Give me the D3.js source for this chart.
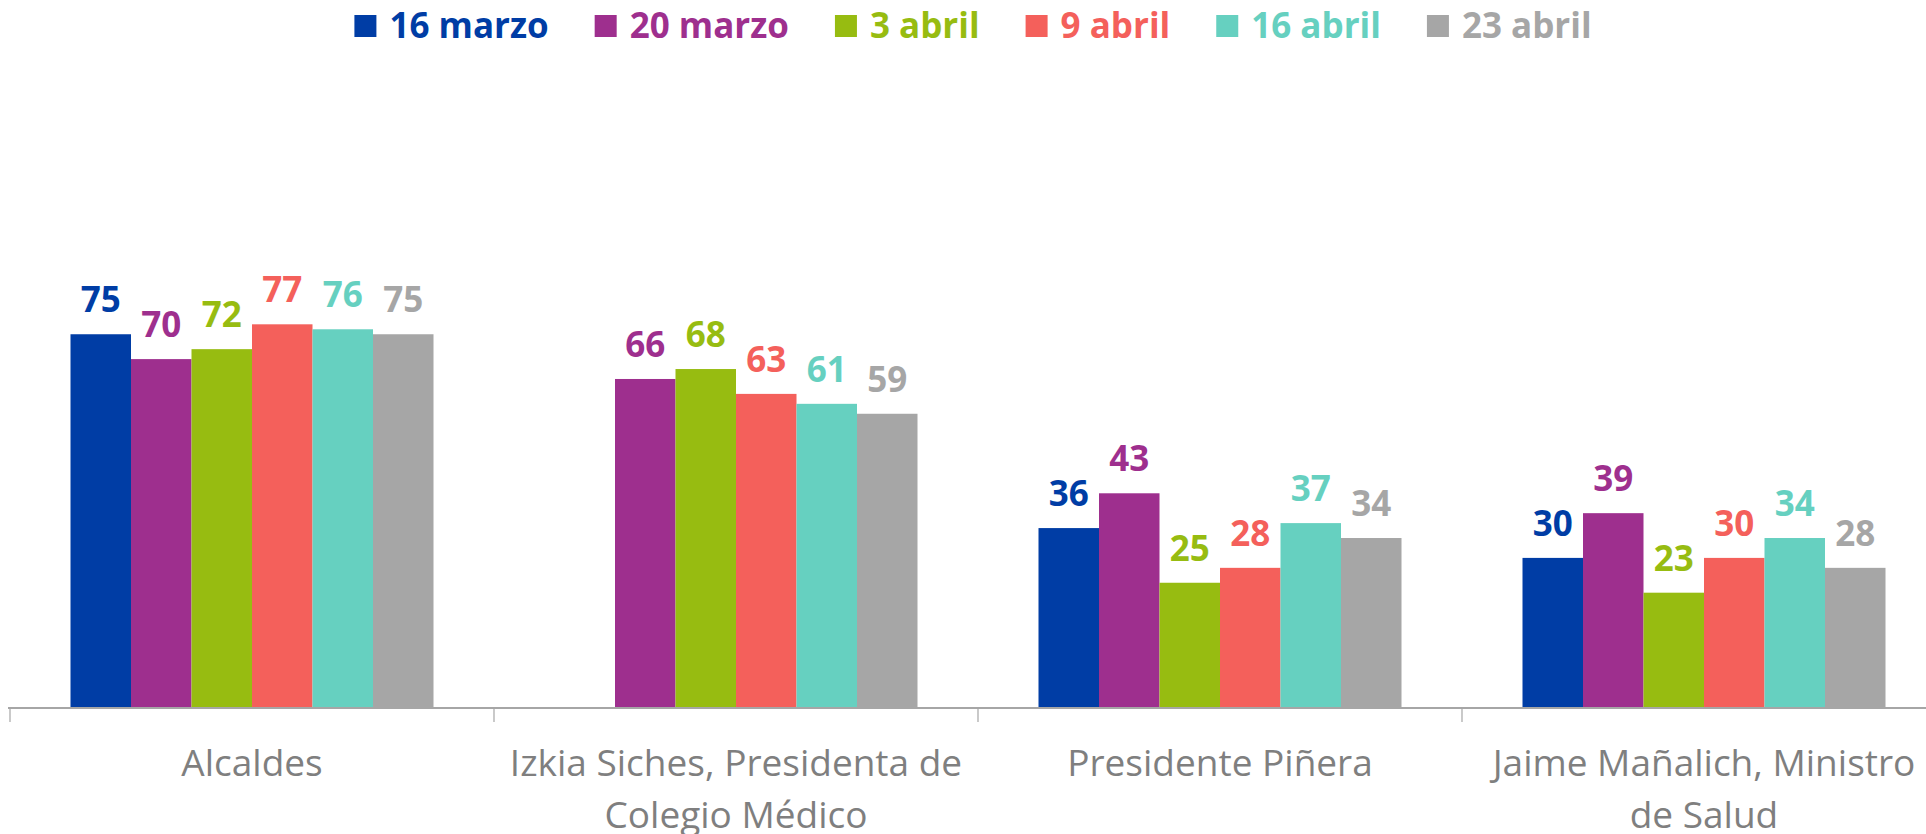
<!DOCTYPE html>
<html>
<head>
<meta charset="utf-8">
<script src="https://cdn.jsdelivr.net/npm/d3@7"></script>
<style>
  body { margin: 0; background: #fff; }
  svg { display: block; font-family: "Open Sans", sans-serif; }
</style>
</head>
<body>
<svg id="chart" width="1926" height="834"></svg>
<script>
const categories = ['Alcaldes', 'Izkia Siches, Presidenta de Colegio Médico', 'Presidente Piñera', 'Jaime Mañalich, Ministro de Salud'];
const seriesNames = ['16 marzo', '20 marzo', '3 abril', '9 abril', '16 abril', '23 abril'];
const colors = ['#003DA5', '#9E2F8E', '#97BC11', '#F4605B', '#66D0C0', '#A6A6A6'];

const s16marzo = [75, null, 36, 30];
const s20marzo = [70, 66, 43, 39];
const s3abril  = [72, 68, 25, 23];
const s9abril  = [77, 63, 28, 30];
const s16abril = [76, 61, 37, 34];
const s23abril = [75, 59, 34, 28];
const seriesValues = [s16marzo, s20marzo, s3abril, s9abril, s16abril, s23abril];

const svg = d3.select('#chart');
// plot runs past the right edge of the picture, like the original
const left = 10, right = 1946, baseY = 707;

const x0 = d3.scaleBand().domain(categories).range([left, right]);
// one empty bar width on each side of a group
const x1 = d3.scaleBand().domain(seriesNames)
    .range([x0.bandwidth() / 8, x0.bandwidth() * 7 / 8]);
const y = d3.scaleLinear().domain([0, 100]).range([baseY, baseY - 497]);

// bars
seriesNames.forEach(function(name, si){
    const g = svg.append('g');
    categories.forEach(function(cat, ci){
        const v = seriesValues[si][ci];
        if(v == null) return;
        const bx = x0(cat) + x1(name);
        g.append('rect')
            .attr('x', bx)
            .attr('y', y(v))
            .attr('width', x1.bandwidth())
            .attr('height', y(0) - y(v))
            .attr('fill', colors[si]);
        g.append('text')
            .attr('x', bx + x1.bandwidth() / 2)
            .attr('y', y(v) - 22)
            .attr('text-anchor', 'middle')
            .attr('font-size', 35)
            .attr('font-weight', 'bold')
            .attr('fill', colors[si])
            .text(v);
    });
});

// axis
const axis = svg.append('g');
axis.append('line')
    .attr('x1', left - 2).attr('x2', 1926)
    .attr('y1', baseY + 1).attr('y2', baseY + 1)
    .attr('stroke', '#A6A6A6').attr('stroke-width', 2);
categories.concat([null]).forEach(function(cat){
    const tx = cat ? x0(cat) : right;
    axis.append('line')
        .attr('x1', tx).attr('x2', tx)
        .attr('y1', baseY + 1).attr('y2', baseY + 15)
        .attr('stroke', '#A6A6A6').attr('stroke-width', 1.2);
});

function wrapLabel(textSel, maxWidth){
    const words = textSel.text().split(/\s+/);
    const cx = +textSel.attr('x');
    textSel.text(null);
    let line = [];
    let tspan = textSel.append('tspan').attr('x', cx).attr('dy', 0);
    words.forEach(function(w){
        line.push(w);
        tspan.text(line.join(' '));
        if(tspan.node().getComputedTextLength() > maxWidth && line.length > 1){
            line.pop();
            tspan.text(line.join(' '));
            line = [w];
            tspan = textSel.append('tspan').attr('x', cx).attr('dy', 52).text(w);
        }
    });
}

categories.forEach(function(cat){
    const t = svg.append('text')
        .attr('x', x0(cat) + x0.bandwidth() / 2)
        .attr('y', 776)
        .attr('text-anchor', 'middle')
        .attr('font-size', 37)
        .attr('fill', '#7F7F7F')
        .text(cat);
    wrapLabel(t, 458);
});

// legend, centred over the plot
const legend = svg.append('g');
let cursor = 0;
seriesNames.forEach(function(name, i){
    const g = legend.append('g');
    g.append('rect').attr('x', 0).attr('y', 15).attr('width', 22).attr('height', 22).attr('fill', colors[i]);
    const t = g.append('text')
        .attr('x', 35).attr('y', 38)
        .attr('font-size', 35).attr('font-weight', 'bold')
        .attr('fill', colors[i]).text(name);
    const w = 35 + t.node().getComputedTextLength();
    g.attr('transform', 'translate(' + cursor + ',0)');
    cursor += w + 46;
});
const total = cursor - 46;
legend.attr('transform', 'translate(' + (973 - total / 2) + ',0)');
</script>
</body>
</html>
